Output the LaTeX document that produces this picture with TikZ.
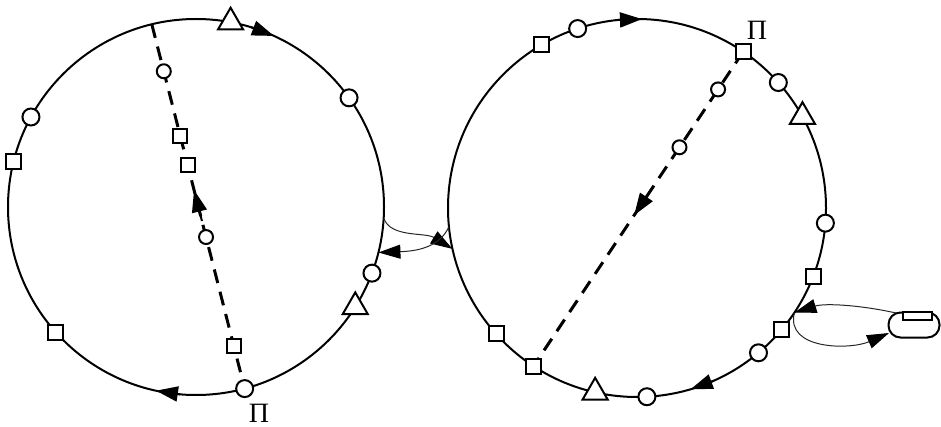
\documentclass[tikz,border=0pt]{standalone}
\usepackage{fontspec}
\newfontfamily\pifont{Liberation Serif}
\usetikzlibrary{arrows.meta,shapes.geometric,calc}
\begin{document}
\begin{tikzpicture}[x=1pt,y=-1pt,
  ring/.style={line width=2pt},
  sq/.style={draw, fill=white, line width=2pt, minimum size=15pt, inner sep=0pt},
  cir/.style={draw, circle, fill=white, line width=2pt, minimum size=17pt, inner sep=0pt},
  scir/.style={cir, minimum size=14pt},
  tri/.style={draw, fill=white, regular polygon, regular polygon sides=3, line width=2pt, minimum size=29pt, inner sep=0pt},
  dashedline/.style={line width=3pt, dash pattern=on 14pt off 9pt},
  tip/.style={-{Triangle[length=22pt,width=15pt]}, line width=2pt},
  thinlink/.style={line width=1pt, draw=black!85},
  linktip/.style={-{Triangle[length=22pt,width=14pt,fill=black,color=black]}},
  lab/.style={font=\pifont\fontsize{28}{30}\selectfont, inner sep=0pt}
]
\useasboundingbox (0,0) rectangle (941,427);
\coordinate (C1) at (196,207);
\coordinate (C2) at (637,208);
\draw[ring] (C1) circle[radius=188];
\draw[ring] (C2) circle[radius=189];

% ---------- left circle ----------
\path (C1) ++(-103.6:188) coordinate (l0) (C1) ++(75:188) coordinate (lp);
\draw[dashedline] (l0) -- (lp);
\path (l0) -- (lp) coordinate[pos=0.129] (ld1) coordinate[pos=0.307] (ld2)
      coordinate[pos=0.386] (ld3) coordinate[pos=0.584] (ld4) coordinate[pos=0.882] (ld5)
      coordinate[pos=0.54] (lda) coordinate[pos=0.455] (ldb);
\draw[tip] (lda) -- (ldb);
\node[scir] (LD1) at (ld1) {};
\node[sq, minimum size=14pt] (LD2) at (ld2) {};
\node[sq, minimum size=14pt] (LD3) at (ld3) {};
\node[scir] (LD4) at (ld4) {};
\node[sq, minimum size=14pt] (LD5) at (ld5) {};
\node[cir] (LP) at (lp) {};
\node[lab] (piL) at (259,413) {Π};

\path (C1) ++(-151.4:188) node[cir] (L1) {};
\path (C1) ++(-166.1:188) node[sq] (L2) {};
\path (C1) ++(138.3:188) node[sq] (L3) {};
\path (C1) ++(32.1:188) node[tri] (L4) {};
\path (C1) ++(20.6:188) node[cir] (L5) {};
\path (C1) ++(-35.5:188) node[cir] (L6) {};
\path (C1) ++(-79.4:188) node[tri] (L7) {};
% arrows on left circle
\path (C1) ++(-73:188) coordinate (la1) (C1) ++(-65.5:188) coordinate (la2);
\draw[tip] (la1) -- (la2);
\path (C1) ++(94.8:188) coordinate (lb1) (C1) ++(102.3:188) coordinate (lb2);
\draw[tip] (lb1) -- (lb2);

% ---------- right circle ----------
\path (C2) ++(-55.8:189) coordinate (rp) (C2) ++(123.2:189) coordinate (rq);
\draw[dashedline] (rp) -- (rq);
\path (rp) -- (rq) coordinate[pos=0.12] (rd1) coordinate[pos=0.304] (rd2)
      coordinate[pos=0.437] (rda) coordinate[pos=0.52] (rdb);
\draw[tip] (rda) -- (rdb);
\node[scir] (RD1) at (rd1) {};
\node[scir] (RD2) at (rd2) {};
\node[sq] (RP) at (rp) {};
\node[sq] (RQ) at (rq) {};
\node[lab] (piR) at (757,30) {Π};

\path (C2) ++(-120.3:189) node[sq] (R1) {};
\path (C2) ++(-108.3:189) node[cir] (R2) {};
\path (C2) ++(-41.6:189) node[cir] (R3) {};
\path (C2) ++(-28.9:189) node[tri] (R4) {};
\path (C2) ++(4.6:189) node[cir] (R5) {};
\path (C2) ++(21.2:189) node[sq] (R6) {};
\path (C2) ++(40.1:189) node[sq] (R7) {};
\path (C2) ++(50:189) node[cir] (R8) {};
\path (C2) ++(87:189) node[cir] (R9) {};
\path (C2) ++(102.8:189) node[tri] (R10) {};
\path (C2) ++(138.2:189) node[sq] (R11) {};
% arrows on right circle
\path (C2) ++(-96:189) coordinate (ra1) (C2) ++(-88.5:189) coordinate (ra2);
\draw[tip] (ra1) -- (ra2);
\path (C2) ++(66:189) coordinate (rb1) (C2) ++(73.5:189) coordinate (rb2);
\draw[tip] (rb1) -- (rb2);

% ---------- links between circles ----------
\path (C1) ++(3.3:188) coordinate (A0) (C2) ++(167.5:189) coordinate (A1);
\path (C2) ++(174.3:189) coordinate (B0) (C1) ++(14:188) coordinate (B1);
\draw[thinlink, linktip] (A0) .. controls (390,238) and (425,232) .. (A1);
\draw[thinlink, linktip] (B0) .. controls (440,246) and (420,251) .. (B1);

% ---------- loop on the right ----------
\path (C2) ++(33.6:189) coordinate (P);
\node[draw, line width=2pt, rounded corners=12pt, minimum width=51pt, minimum height=25pt, inner sep=0pt] (box) at (914,325) {};
\node[draw, fill=white, line width=2pt, minimum width=29pt, minimum height=8pt, inner sep=0pt] (slot) at (917.5,315.5) {};
\coordinate (bu) at (896,313);
\coordinate (bl) at (889,333);
\draw[thinlink, linktip] (bu) .. controls (860,305) and (825,303) .. (P);
\draw[thinlink, linktip] (P) .. controls (785,350) and (850,350) .. (bl);
\end{tikzpicture}
\end{document}
